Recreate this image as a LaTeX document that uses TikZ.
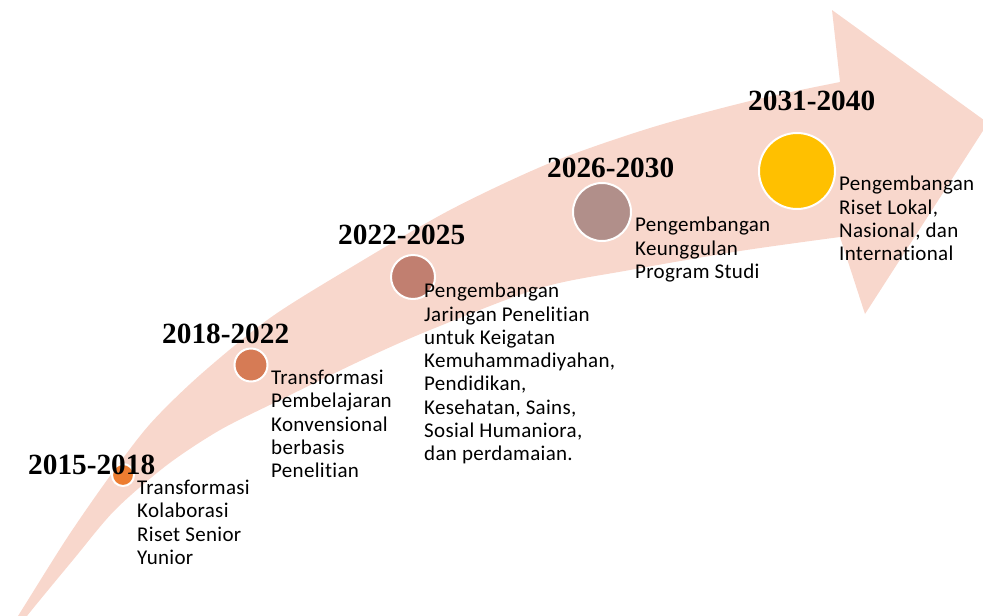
\documentclass[tikz,border=0pt]{standalone}
\usepackage{fontspec}
\setmainfont{Carlito}[Ligatures=NoCommon,LetterSpace=1.5]
\newfontfamily\yearfont{Liberation Serif}
\usetikzlibrary{positioning}
\definecolor{bandpink}{RGB}{248,215,204}
\definecolor{dotA}{RGB}{237,125,49}
\definecolor{dotB}{RGB}{214,123,85}
\definecolor{dotC}{RGB}{193,127,112}
\definecolor{dotD}{RGB}{177,143,138}
\definecolor{dotE}{RGB}{255,192,0}

\begin{document}
\begin{tikzpicture}[x=1pt,y=-1pt,
dot/.style={circle,draw=white,line width=2pt,inner sep=0pt},
yearlbl/.style={anchor=base west,inner sep=0pt,font=\yearfont\bfseries\fontsize{29.3}{34}\selectfont},
desc/.style={anchor=north west,inner sep=0pt,align=left,font=\fontsize{21}{23.3}\selectfont}]
\useasboundingbox (0,0) rectangle (983,616);
\clip (0,0) rectangle (983,616);
\fill [color=bandpink] plot[smooth] coordinates {(10,628) (18,616) (67,538) (110,476) (150,424) (200,375) (270,318) (350,268) (450,210) (550,163) (650,128) (750,101) (840,82)}
 -- (832,10) -- (988,123) -- (865,314)
 -- plot[smooth] coordinates {(840,237) (740,251) (630,270) (540,288) (430,330) (360,361) (280,400) (220,430) (167,465) (115,510) (73,560) (27,616) (20,628)} -- cycle;
\node [dot,fill=dotA,minimum size=22pt] (p1) at (123,475) {};
\node [dot,fill=dotB,minimum size=33pt] (p2) at (251,365) {};
\node [dot,fill=dotC,minimum size=44pt] (p3) at (413,277) {};
\node [dot,fill=dotD,minimum size=58pt] (p4) at (602,212) {};
\node [dot,fill=dotE,minimum size=76pt] (p5) at (797,171) {};
\node [yearlbl] (y1) at (28,474) {2015-2018};
\node [yearlbl] (y2) at (162,343) {2018-2022};
\node [yearlbl] (y3) at (338,244) {2022-2025};
\node [yearlbl] (y4) at (547,177) {2026-2030};
\node [yearlbl] (y5) at (748,110) {2031-2040};
\node [desc] (d1) at (137,480) {Transformasi\\Kolaborasi\\Riset Senior\\Yunior};
\node [desc] (d2) at (271,370) {Transformasi\\Pembelajaran\\Konvensional\\berbasis\\Penelitian};
\node [desc] (d3) at (424,283) {Pengembangan\\Jaringan Penelitian\\untuk Keigatan\\Kemuhammadiyahan,\\Pendidikan,\\Kesehatan, Sains,\\Sosial Humaniora,\\dan perdamaian.};
\node [desc] (d4) at (635,217) {Pengembangan\\Keunggulan\\Program Studi};
\node [desc] (d5) at (839,176) {Pengembangan\\Riset Lokal,\\Nasional, dan\\International};
\end{tikzpicture}
\end{document}
